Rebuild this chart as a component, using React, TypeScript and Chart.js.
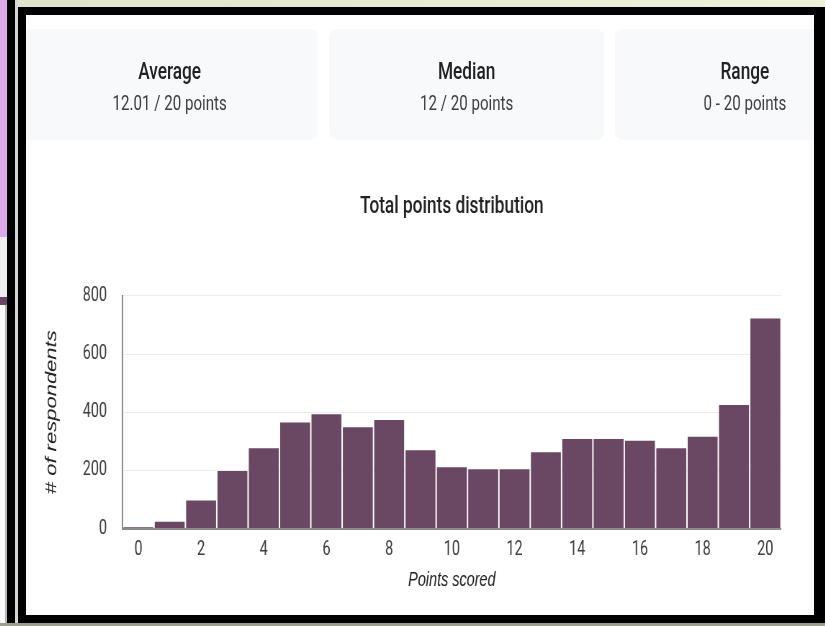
import React, { useEffect, useRef } from "react";
import { Chart, registerables } from "chart.js";

Chart.register(...registerables);

// ---- data ----
const scores = ["0", "1", "2", "3", "4", "5", "6", "7", "8", "9", "10", "11", "12", "13", "14", "15", "16", "17", "18", "19", "20"];
const respondents = [4, 23, 96, 198, 276, 365, 393, 348, 373, 269, 211, 204, 204, 262, 308, 308, 302, 276, 316, 425, 723];
const yMin = 0;
const yMax = 800;
const yStep = 200;
const chartTitle = "Total points distribution";
const xTitle = "Points scored";
const yTitle = "# of respondents";
const statTitles = ["Average", "Median", "Range"];
const statValues = ["12.01 / 20 points", "12 / 20 points", "0 - 20 points"];

// ---- layout (horizontal squeeze of the original screenshot) ----
const SX = 0.72;
const CONTENT_W = 788;
const INNER_W = Math.round(CONTENT_W / SX);
const CANVAS_W = INNER_W;
const CANVAS_H = 420;
const BAR_COLOR = "#6a4762";

const cardBoxes = [
  { left: -6, width: 411 },
  { left: 421, width: 382 },
  { left: 818, width: 361 },
];

function BarChart() {
  const ref = useRef<HTMLCanvasElement | null>(null);
  useEffect(() => {
    if (!ref.current) return;
    const chart = new Chart(ref.current, {
      type: "bar",
      data: {
        labels: scores,
        datasets: [
          {
            data: respondents,
            backgroundColor: BAR_COLOR,
            borderWidth: 0,
            barPercentage: 0.955,
            categoryPercentage: 1,
          },
        ],
      },
      options: {
        responsive: false,
        animation: false,
        devicePixelRatio: 1,
        layout: { padding: { left: 0, right: 45.4, top: 0, bottom: 8 } },
        plugins: {
          legend: { display: false },
          tooltip: { enabled: false },
          title: {
            display: true,
            text: chartTitle,
            fullSize: false,
            color: "#202124",
            font: { family: "Roboto", size: 24, weight: "500" },
            padding: { top: 12.6, bottom: 74.6 },
          },
        },
        scales: {
          x: {
            grid: { display: false, drawTicks: false },
            border: { display: true, color: "#8c8c8c", width: 2 },
            ticks: {
              autoSkip: false,
              maxRotation: 0,
              padding: 9.5,
              color: "#3c3c3c",
              font: { family: "Roboto", size: 20 },
              callback: (_v: any, i: number) => (i % 2 === 0 ? scores[i] : ""),
            },
            title: {
              display: true,
              text: xTitle,
              color: "#222222",
              font: { family: "Liberation Sans", size: 20, style: "italic" },
              padding: { top: 0, bottom: 0 },
            },
            afterFit: (s: any) => {
              s.height = 63.5;
            },
          },
          y: {
            min: yMin,
            max: yMax,
            ticks: {
              stepSize: yStep,
              padding: 21.8,
              color: "#3c3c3c",
              font: { family: "Roboto", size: 20 },
            },
            grid: { color: "#ececec", lineWidth: 1, drawTicks: false },
            border: { display: true, color: "#8c8c8c", width: 2 },
            title: {
              display: true,
              text: yTitle,
              color: "#222222",
              font: { family: "Liberation Sans", size: 22, style: "italic" },
              padding: { top: 22.5, bottom: 0 },
            },
            afterFit: (s: any) => {
              s.width = 134.3;
            },
          },
        },
      },
    } as any);
    return () => chart.destroy();
  }, []);
  return <canvas ref={ref} width={CANVAS_W} height={CANVAS_H} style={{ display: "block" }} />;
}

export default function App() {
  return (
    <div
      style={{
        position: "fixed",
        left: 0,
        top: 0,
        width: 825,
        height: 626,
        overflow: "hidden",
        background: "linear-gradient(90deg, #dfe2cc, #eef0dc)",
        fontFamily: "Roboto, sans-serif",
      }}
    >
      {/* left strip */}
      <div style={{ position: "absolute", left: 0, top: 0, width: 7, height: 237, background: "#dca8ea" }} />
      <div style={{ position: "absolute", left: 0, top: 237, width: 7, height: 60, background: "#ececec" }} />
      <div style={{ position: "absolute", left: 0, top: 297, width: 7, height: 8, background: BAR_COLOR }} />
      <div style={{ position: "absolute", left: 0, top: 305, width: 5, height: 321, background: "#fafafa", borderRight: "2px solid #b8b8b8" }} />
      <div style={{ position: "absolute", left: 7, top: 0, width: 8, height: 626, background: "#000" }} />
      <div style={{ position: "absolute", left: 15, top: 0, width: 3, height: 626, background: "#d6d6d6" }} />
      {/* frame */}
      <div style={{ position: "absolute", left: 18, top: 7, width: 807, height: 616, background: "#000" }} />
      <div style={{ position: "absolute", left: 0, top: 623, width: 825, height: 3, background: "#9c9d8c" }} />
      {/* content */}
      <div
        style={{
          position: "absolute",
          left: 26,
          top: 15,
          width: CONTENT_W,
          height: 600,
          background: "#ffffff",
          overflow: "hidden",
        }}
      >
        <div
          style={{
            position: "absolute",
            left: 0,
            top: 0,
            width: INNER_W,
            height: 600,
            transform: `scaleX(${SX})`,
            transformOrigin: "0 0",
          }}
        >
          {statTitles.map((t, i) => (
            <div
              key={t}
              style={{
                position: "absolute",
                left: cardBoxes[i].left,
                top: 14,
                width: cardBoxes[i].width,
                height: 111,
                background: "#f8f9fa",
                borderRadius: "11px / 8px",
              }}
            >
              <div
                style={{
                  position: "absolute",
                  left: 0,
                  right: 0,
                  top: 28,
                  textAlign: "center",
                  fontSize: 24,
                  lineHeight: "28px",
                  fontWeight: 500,
                  color: "#202124",
                  whiteSpace: "nowrap",
                }}
              >
                {t}
              </div>
              <div
                style={{
                  position: "absolute",
                  left: 0,
                  right: 0,
                  top: 62,
                  textAlign: "center",
                  fontSize: 21,
                  lineHeight: "25px",
                  color: "#3c4043",
                  whiteSpace: "nowrap",
                }}
              >
                {statValues[i]}
              </div>
            </div>
          ))}
          <div style={{ position: "absolute", left: 0, top: 165, width: CANVAS_W, height: CANVAS_H }}>
            <BarChart />
          </div>
        </div>
      </div>
    </div>
  );
}
